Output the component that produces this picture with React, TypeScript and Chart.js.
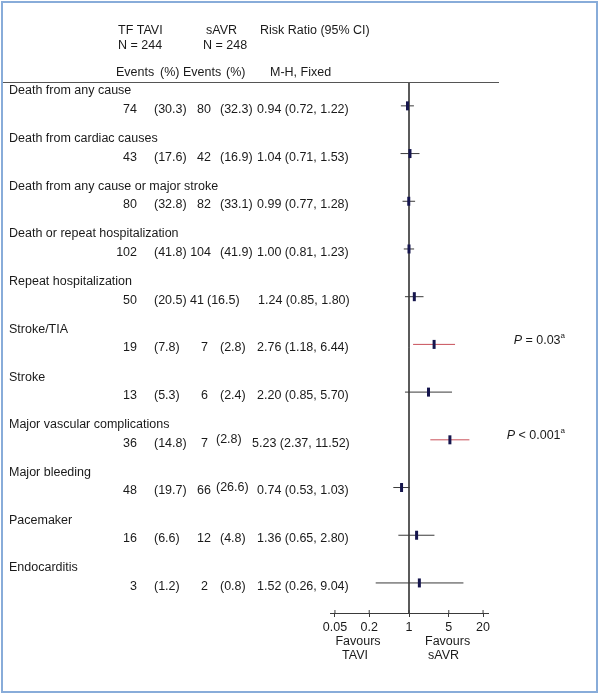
import React, { useEffect, useRef } from 'react';
import { Chart, registerables } from 'chart.js';

Chart.register(...registerables);

// ---------- data ----------
const outcomes = [
  'Death from any cause',
  'Death from cardiac causes',
  'Death from any cause or major stroke',
  'Death or repeat hospitalization',
  'Repeat hospitalization',
  'Stroke/TIA',
  'Stroke',
  'Major vascular complications',
  'Major bleeding',
  'Pacemaker',
  'Endocarditis',
];
const taviEvents = [74, 43, 80, 102, 50, 19, 13, 36, 48, 16, 3];
const taviPct = [30.3, 17.6, 32.8, 41.8, 20.5, 7.8, 5.3, 14.8, 19.7, 6.6, 1.2];
const savrEvents = [80, 42, 82, 104, 41, 7, 6, 7, 66, 12, 2];
const savrPct = [32.3, 16.9, 33.1, 41.9, 16.5, 2.8, 2.4, 2.8, 26.6, 4.8, 0.8];
const riskRatio = [0.94, 1.04, 0.99, 1.0, 1.24, 2.76, 2.2, 5.23, 0.74, 1.36, 1.52];
const ciLower = [0.72, 0.71, 0.77, 0.81, 0.85, 1.18, 0.85, 2.37, 0.53, 0.65, 0.26];
const ciUpper = [1.22, 1.53, 1.28, 1.23, 1.8, 6.44, 5.7, 11.52, 1.03, 2.8, 9.04];
const pValueText = ['', '', '', '', '', '= 0.03', '', '< 0.001', '', '', ''];
const tickValues = [0.05, 0.2, 1, 5, 20];
const tickLabels = ['0.05', '0.2', '1', '5', '20'];

const groupHeaders = ['TF TAVI', 'sAVR', 'Risk Ratio (95% CI)'];
const groupSizes = ['N = 244', 'N = 248'];
const columnHeaders = ['Events', '(%)', 'Events', '(%)', 'M-H, Fixed'];

// ---------- styling / layout ----------
const FONT = '"Liberation Sans", Arial, Helvetica, sans-serif';
const FS = 12.5;
const TEXT = '#1a1a1a';
const LINE = '#3a3a3a';
const RED = '#c9505a';
const MARK = '#15154d';

// per-row text nudges seen in the original typesetting
const pct2X: Record<number, number> = { 4: 207, 7: 216, 8: 216 };
const pct2Dy: Record<number, number> = { 7: -4, 8: -3 };
const ev2Right: Record<number, number> = { 4: 204 };
const rrX: Record<number, number> = { 4: 258, 7: 252 };

function fmt(v: number) {
  return v.toFixed(2);
}

const textPlugin = {
  id: 'forestText',
  beforeDraw(chart: any) {
    const ctx = chart.ctx;
    ctx.save();
    ctx.fillStyle = '#ffffff';
    ctx.fillRect(0, 0, chart.width, chart.height);
    ctx.restore();
  },
  afterDraw(chart: any) {
    const { ctx, chartArea } = chart;
    const x = chart.scales.x;
    const y = chart.scales.y;
    ctx.save();

    const text = (s: string, px: number, py: number, align: CanvasTextAlign = 'left', font = `${FS}px ${FONT}`) => {
      ctx.font = font;
      ctx.fillStyle = TEXT;
      ctx.textAlign = align;
      ctx.textBaseline = 'middle';
      ctx.fillText(s, px, py);
    };

    // outer frame
    ctx.strokeStyle = '#88acd9';
    ctx.lineWidth = 2;
    ctx.strokeRect(2, 2, 595, 690);

    // header rule
    ctx.strokeStyle = '#555';
    ctx.lineWidth = 1;
    ctx.beginPath();
    ctx.moveTo(3, Math.round(chartArea.top) + 0.5);
    ctx.lineTo(499, Math.round(chartArea.top) + 0.5);
    ctx.stroke();

    // upper halves of the axis ticks
    ctx.strokeStyle = LINE;
    tickValues.forEach((v) => {
      const px = x.getPixelForValue(v);
      ctx.beginPath();
      ctx.moveTo(px, chartArea.bottom - 3);
      ctx.lineTo(px, chartArea.bottom);
      ctx.stroke();
    });

    // headers
    text(groupHeaders[0], 118, 31);
    text(groupHeaders[1], 206, 31);
    text(groupHeaders[2], 260, 31);
    text(groupSizes[0], 118, 46);
    text(groupSizes[1], 203, 46);
    const colX = [116, 160, 183, 226, 270];
    columnHeaders.forEach((h, i) => text(h, colX[i], 73));

    // rows
    outcomes.forEach((name, i) => {
      const ym = y.getPixelForValue(i);
      const ly = ym - 15;
      const vy = ym + 3.5;
      text(name, 9, ly);
      text(String(taviEvents[i]), 137, vy, 'right');
      text(`(${taviPct[i].toFixed(1)})`, 154, vy);
      const e2r = ev2Right[i] ?? (savrEvents[i] < 10 ? 208 : 211);
      text(String(savrEvents[i]), e2r, vy, 'right');
      text(`(${savrPct[i].toFixed(1)})`, pct2X[i] ?? 220, vy + (pct2Dy[i] ?? 0));
      text(`${fmt(riskRatio[i])} (${fmt(ciLower[i])}, ${fmt(ciUpper[i])})`, rrX[i] ?? 257, vy);

      if (pValueText[i]) {
        const py = ym - 4;
        const right = 565;
        ctx.font = `italic ${FS}px ${FONT}`;
        const wP = ctx.measureText('P').width;
        ctx.font = `${FS}px ${FONT}`;
        const rest = ' ' + pValueText[i];
        const wR = ctx.measureText(rest).width;
        ctx.font = `8px ${FONT}`;
        const wA = ctx.measureText('a').width;
        const start = right - wP - wR - wA;
        text('P', start, py, 'left', `italic ${FS}px ${FONT}`);
        text(rest, start + wP, py);
        text('a', start + wP + wR, py - 5, 'left', `8px ${FONT}`);
      }
    });

    // favours labels
    text('Favours', 358, 642, 'center');
    text('TAVI', 355, 656, 'center');
    text('Favours', 425, 642, 'left');
    text('sAVR', 428, 656, 'left');

    ctx.restore();
  },
};

export default function App() {
  const ref = useRef<HTMLCanvasElement>(null);

  useEffect(() => {
    if (!ref.current) return;
    const yMin = -0.5;
    const yMax = 10.63;

    const markers = {
      type: 'scatter' as const,
      data: riskRatio.map((v, i) => ({ x: v, y: i })),
      pointStyle: 'line',
      pointRotation: 90,
      pointRadius: 4.5,
      pointHoverRadius: 4.5,
      pointBorderWidth: 3,
      pointBorderColor: MARK,
      pointBackgroundColor: MARK,
      borderColor: MARK,
      showLine: false,
    };
    const ciLines = outcomes.map((_, i) => ({
      type: 'line' as const,
      data: [
        { x: ciLower[i], y: i },
        { x: ciUpper[i], y: i },
      ],
      borderColor: pValueText[i] ? RED : LINE,
      borderWidth: 1,
      pointRadius: 0,
      showLine: true,
      fill: false,
    }));
    const refLine = {
      type: 'line' as const,
      data: [
        { x: 1, y: yMin },
        { x: 1, y: yMax },
      ],
      borderColor: '#444',
      borderWidth: 1,
      pointRadius: 0,
      showLine: true,
      fill: false,
      clip: false as any,
    };

    const chart = new Chart(ref.current, {
      type: 'scatter',
      data: { datasets: [markers as any, ...ciLines, refLine] },
      options: {
        responsive: false,
        animation: false,
        devicePixelRatio: 1,
        events: [],
        layout: { padding: { left: 330, right: 112, top: 82, bottom: 57 } },
        plugins: { legend: { display: false }, tooltip: { enabled: false } },
        scales: {
          x: {
            type: 'logarithmic',
            position: 'bottom',
            min: 0.04093,
            max: 24.43,
            afterBuildTicks: (scale: any) => {
              scale.ticks = tickValues.map((v) => ({ value: v }));
            },
            ticks: {
              autoSkip: false,
              maxRotation: 0,
              padding: 3,
              color: TEXT,
              font: { family: FONT, size: FS },
              callback: (value: any) => {
                const idx = tickValues.indexOf(Number(value));
                return idx >= 0 ? tickLabels[idx] : '';
              },
            },
            grid: { drawOnChartArea: false, drawTicks: true, tickLength: 4, color: LINE },
            border: { display: true, color: LINE, width: 1 },
          },
          y: {
            type: 'linear',
            display: false,
            reverse: true,
            min: yMin,
            max: yMax,
          },
        },
      },
      plugins: [textPlugin],
    });
    return () => chart.destroy();
  }, []);

  return (
    <div style={{ position: 'absolute', left: 0, top: 0, width: 600, height: 695 }}>
      <canvas ref={ref} width={600} height={695} style={{ display: 'block', width: 600, height: 695 }} />
    </div>
  );
}
